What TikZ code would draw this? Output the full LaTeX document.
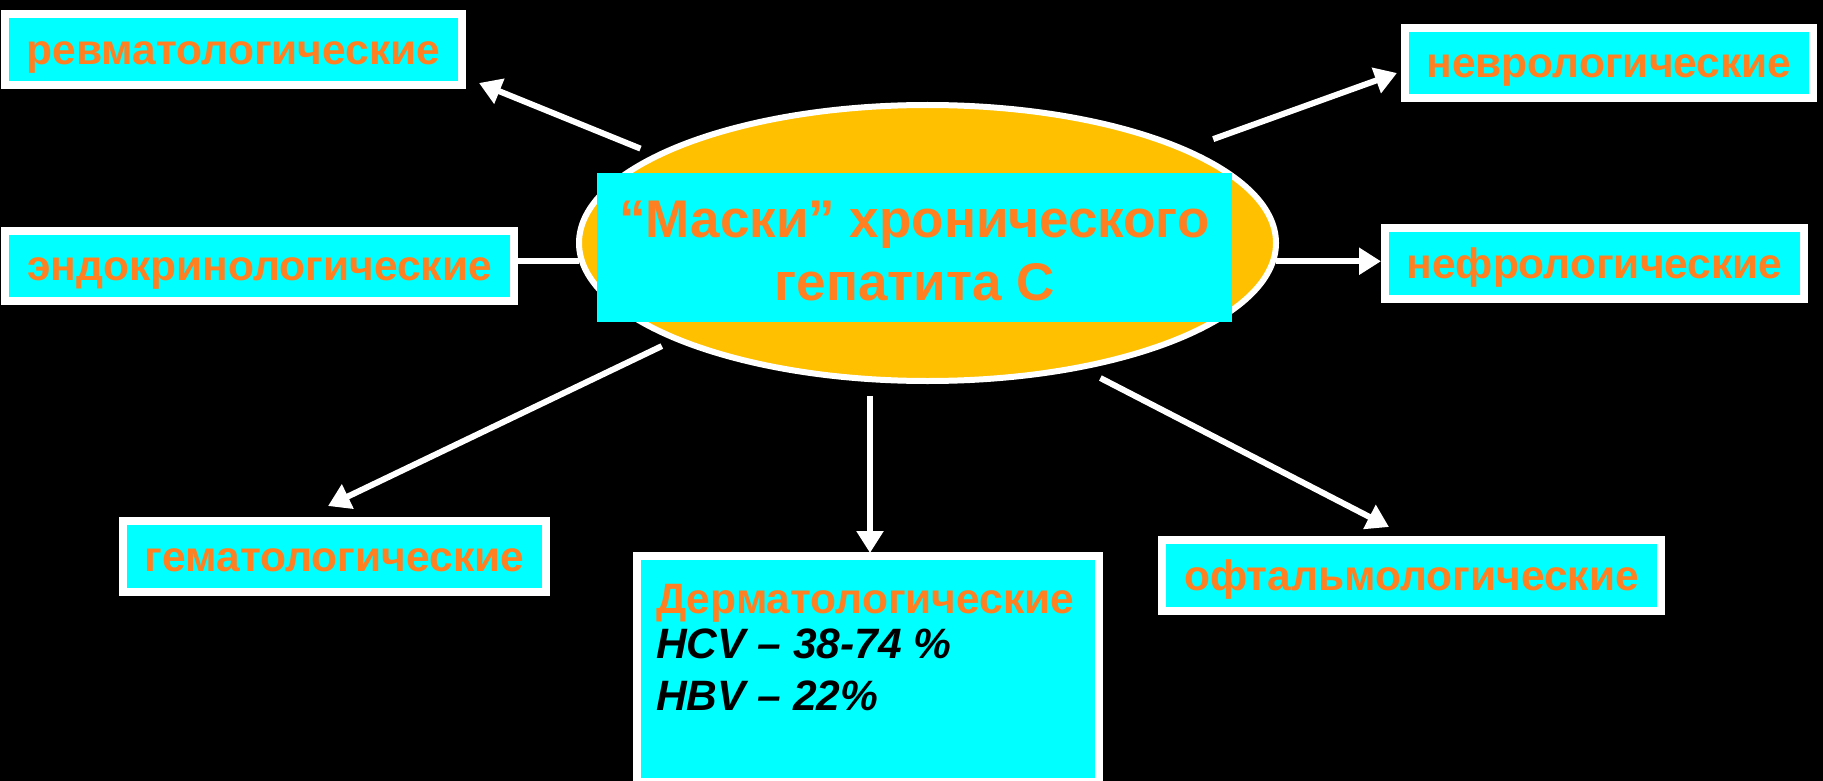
\documentclass[tikz,border=0pt]{standalone}
\usepackage{fontspec}
\setmainfont{Liberation Sans}
\usetikzlibrary{shapes.geometric,arrows.meta}
\definecolor{boxcyan}{HTML}{00FFFF}
\definecolor{txtorange}{HTML}{FF8021}
\definecolor{ellfill}{HTML}{FFC000}
\tikzset{
  box/.style={draw=white, line width=8pt, fill=boxcyan, inner sep=0pt,
    font=\fontsize{42.5}{48}\selectfont\bfseries, text=txtorange,
    text height=38.5pt, text depth=9pt},
  arr/.style={draw=white, line width=6pt, -{Triangle[length=22pt,width=26pt]}},
  conn/.style={draw=white, line width=6pt},
}
\begin{document}
\begin{tikzpicture}[x=1pt,y=-1pt]
\fill[black] (0,0) rectangle (1823,781);
\useasboundingbox (0,0) rectangle (1823,781);

% central ellipse and title
\node[ellipse, draw=white, line width=6pt, fill=ellfill, minimum width=697pt,
  minimum height=276pt, inner sep=0pt] (ell) at (927.5,243) {};
\node[fill=boxcyan, minimum width=635pt, minimum height=149pt, inner sep=0pt,
  align=center, text=txtorange, font=\fontsize{53}{63}\selectfont\bfseries,
  text height=116pt, text depth=11pt]
  (title) at (914.5,247.5) {“Маски” хронического\\гепатита С};

% boxes
\node[box, minimum width=457pt, minimum height=71pt] (rev) at (233.5,49.5) {ревматологические};
\node[box, minimum width=509pt, minimum height=70pt] (endo) at (259.5,266) {эндокринологические};
\node[box, minimum width=408pt, minimum height=70pt] (nevro) at (1609,63) {неврологические};
\node[box, minimum width=419pt, minimum height=71pt] (nefro) at (1594.5,263.5) {нефрологические};
\node[box, minimum width=423pt, minimum height=71pt] (gemato) at (334.5,556.5) {гематологические};
\node[box, minimum width=499pt, minimum height=71pt] (oftal) at (1411.5,575.5) {офтальмологические};
\node[box, minimum width=462pt, minimum height=226pt] (derm) at (868,669) {};
\node[anchor=base west, align=left, inner sep=0pt,
  font=\fontsize{42.5}{45}\selectfont\bfseries] (dermtext) at (656,710)
  {\textcolor{txtorange}{Дерматологические}\\
   \textit{HCV – 38-74 \%}\\[7pt]
   \textit{HBV – 22\%}};

% arrow tips
\coordinate (trev) at (479,83);
\coordinate (tnevro) at (1397,73);
\coordinate (tgemato) at (328,506);
\coordinate (tderm) at (870,553);
\coordinate (toftal) at (1389,527);

% connectors
\draw[arr, shorten <=15pt] (ell.162.45) -- (trev);
\draw[conn] (ell.183.6) -- (ell.183.6 -| endo.east);
\draw[arr, shorten <=27pt] (ell.20.6) -- (tnevro);
\draw[arr] (ell.-3.6) -- (ell.-3.6 -| nefro.west);
\draw[arr, shorten <=13pt] (ell.201.35) -- (tgemato);
\draw[arr, shorten <=12pt] (ell.south -| tderm) -- (tderm);
\draw[arr, shorten <=19pt] (ell.-39.07) -- (toftal);
\end{tikzpicture}
\end{document}
